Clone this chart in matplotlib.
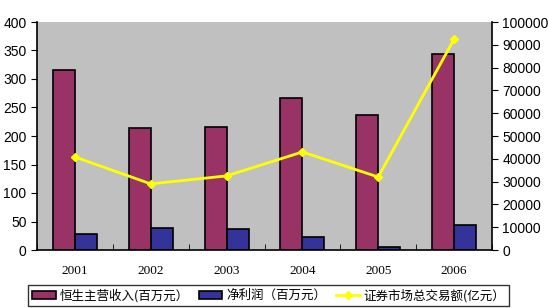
import matplotlib
matplotlib.use("Agg")
import matplotlib.pyplot as plt
import numpy as np

years = ["2001", "2002", "2003", "2004", "2005", "2006"]
revenue = [315, 214, 216, 267, 237, 343]
profit = [28, 39, 37, 22, 5, 43]
turnover = [40800, 29000, 32500, 43000, 32000, 92500]

labels = ["恒生主营收入(百万元）", "净利润（百万元）", "证券市场总交易额(亿元）"]

cjk = ["Noto Sans CJK SC", "DejaVu Sans"]

fig = plt.figure(figsize=(5.48, 3.08), dpi=100)
ax = fig.add_axes([37/548, 1-250/308, (492-37)/548, (250-22)/308])
ax.set_facecolor("#C0C0C0")
x = np.arange(len(years))
w = 0.29
b1 = ax.bar(x - w/2, revenue, w, color="#993366", edgecolor="black", linewidth=1.2, zorder=2)
b2 = ax.bar(x + w/2, profit, w, color="#333399", edgecolor="black", linewidth=1.2, zorder=2)
ax.set_xlim(-0.5, len(years) - 0.5)
ax.set_ylim(0, 400)
ax.set_yticks(range(0, 401, 50))
ax.set_xticks(x)
ax.set_xticklabels(years, fontfamily="Liberation Serif", fontsize=9.5)
ax.set_xticks(np.arange(-0.5, len(years), 1), minor=True)
ax.tick_params(axis="x", which="major", length=0, pad=11)
ax.tick_params(axis="x", which="minor", direction="in", length=4)
ax.tick_params(axis="y", direction="out", length=4, labelsize=10)
for t in ax.get_yticklabels():
    t.set_fontfamily("Liberation Sans")
for s in ["top", "right"]:
    ax.spines[s].set_visible(False)
ax.spines["left"].set_linewidth(1.2)
ax.spines["bottom"].set_linewidth(1.2)

ax2 = ax.twinx()
l, = ax2.plot(x, turnover, color="#FFFF00", linewidth=2, marker="D", markersize=4, zorder=3)
ax2.set_ylim(0, 100000)
ax2.set_yticks(range(0, 100001, 10000))
ax2.tick_params(axis="y", direction="out", length=4, labelsize=10)
for t in ax2.get_yticklabels():
    t.set_fontfamily("Liberation Sans")
for s in ["top", "left", "bottom"]:
    ax2.spines[s].set_visible(False)
ax2.spines["right"].set_linewidth(1.2)

leg = fig.legend([b1, b2, l], labels, loc="lower left", bbox_to_anchor=(28/548, 2/308),
                 ncol=3, frameon=True, fancybox=False, edgecolor="black",
                 prop={"family": cjk, "size": 9}, handlelength=1.9, handleheight=0.6,
                 columnspacing=0.8, handletextpad=0.3, borderpad=0.3, borderaxespad=0)
leg.get_frame().set_linewidth(1.0)

fig.savefig("out.png", dpi=100, facecolor="white")
